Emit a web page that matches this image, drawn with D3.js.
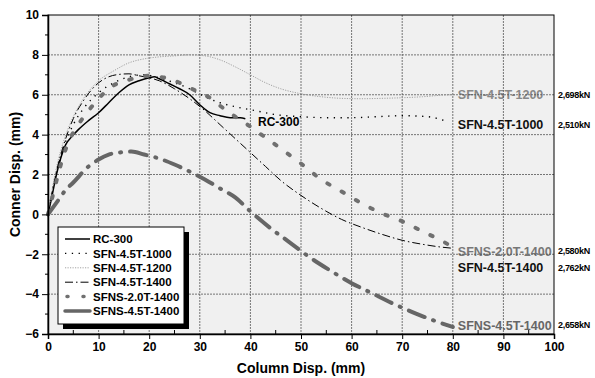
<!DOCTYPE html>
<html>
<head>
<meta charset="utf-8">
<script src="https://cdn.jsdelivr.net/npm/d3@7"></script>
<style>
  body { margin: 0; background: #fff; }
  text { font-family: "Liberation Sans", Arial, sans-serif; font-weight: bold; }
</style>
</head>
<body>
<svg id="chart" width="595" height="378"></svg>
<script>
// Data
const seriesNames = ["RC-300", "SFN-4.5T-1000", "SFN-4.5T-1200", "SFN-4.5T-1400", "SFNS-2.0T-1400", "SFNS-4.5T-1400"];

const rcX = [0, 0.7, 1.5, 2.5, 3.5, 4.7, 6, 8, 10, 12, 14, 16, 18, 20, 21, 22, 24, 26, 28, 30, 32, 34, 36, 38, 39];
const rcY = [0, 0.8, 1.8, 2.8, 3.5, 3.9, 4.25, 4.7, 5.1, 5.6, 6.1, 6.5, 6.7, 6.85, 6.9, 6.8, 6.55, 6.3, 6.0, 5.5, 5.1, 4.95, 4.85, 4.85, 4.8];

const s1000X = [0, 1, 2, 3, 5, 7, 10, 13, 16, 19, 22, 25, 28, 31, 34, 37, 41, 45, 50, 55, 60, 65, 70, 75, 79];
const s1000Y = [0, 1.4, 2.4, 3.3, 4.5, 5.3, 6.1, 6.6, 6.9, 7.0, 6.85, 6.6, 6.3, 5.9, 5.6, 5.4, 5.2, 5.0, 4.9, 4.85, 4.85, 4.9, 4.95, 4.9, 4.65];

const s1200X = [0, 1, 2, 3, 5, 7, 10, 13, 16, 19, 22, 25, 28, 31, 34, 37, 40, 43, 46, 50, 54, 58, 62, 66, 70, 74, 78, 80];
const s1200Y = [0, 1.5, 2.7, 3.6, 4.9, 5.8, 6.7, 7.2, 7.6, 7.8, 7.9, 7.95, 8.0, 7.95, 7.75, 7.4, 7.0, 6.6, 6.3, 6.05, 5.9, 5.82, 5.8, 5.82, 5.85, 5.9, 5.98, 6.0];

const s1400X = [0, 1, 2, 3, 5, 7, 10, 12, 14, 16, 18, 20, 22, 25, 28, 31, 34, 37, 40, 43, 46, 50, 54, 58, 62, 66, 70, 74, 78, 80];
const s1400Y = [0, 1.3, 2.5, 3.4, 4.8, 5.7, 6.6, 6.9, 7.02, 7.05, 6.95, 6.85, 6.7, 6.3, 5.8, 5.2, 4.5, 3.8, 3.1, 2.4, 1.7, 0.95, 0.3, -0.25, -0.65, -1.0, -1.3, -1.5, -1.65, -1.7];

const s20X = [0, 1, 2, 3, 4, 6, 8, 10, 12, 14, 16, 18, 20, 22, 24, 26, 28, 30, 32, 34, 37, 40, 43, 46, 50, 54, 58, 62, 66, 70, 74, 78, 80];
const s20Y = [0, 1.0, 2.0, 2.9, 3.6, 4.5, 5.2, 5.8, 6.3, 6.6, 6.75, 6.9, 6.95, 6.9, 6.8, 6.6, 6.35, 6.1, 5.85, 5.45, 4.9, 4.4, 3.85, 3.3, 2.55, 1.75, 1.15, 0.55, 0.05, -0.35, -0.85, -1.35, -1.65];

const s45X = [0, 2, 3.4, 5, 8, 10, 12, 14, 16.5, 19, 22, 25, 28, 31, 34, 37, 40, 44, 48, 52, 56, 60, 64, 68, 72, 76, 80];
const s45Y = [0, 0.7, 1.2, 1.6, 2.4, 2.75, 3.0, 3.1, 3.15, 3.0, 2.8, 2.5, 2.15, 1.75, 1.3, 0.85, 0.15, -0.7, -1.45, -2.2, -2.85, -3.45, -3.95, -4.45, -4.9, -5.3, -5.65];

const xTicks = [0, 10, 20, 30, 40, 50, 60, 70, 80, 90, 100];
const yTicks = [-6, -4, -2, 0, 2, 4, 6, 8, 10];

// end labels: name, y-position value, force text
const endLabels = ["SFN-4.5T-1200", "SFN-4.5T-1000", "SFNS-2.0T-1400", "SFN-4.5T-1400", "SFNS-4.5T-1400"];
const endLabelY = [6.0, 4.5, -1.85, -2.68, -5.55];
const endForces = ["2,698kN", "2,510kN", "2,580kN", "2,762kN", "2,658kN"];

const styles = {
  "RC-300":         { color: "#000", width: 1.5, dash: null, cap: "butt" },
  "SFN-4.5T-1000":  { color: "#000", width: 1.4, dash: "1.3,5.5", cap: "butt" },
  "SFN-4.5T-1200":  { color: "#999", width: 0.9, dash: "1.2,1.3", cap: "butt" },
  "SFN-4.5T-1400":  { color: "#000", width: 1.0, dash: "8,3,1.5,3", cap: "butt" },
  "SFNS-2.0T-1400": { color: "#707070", width: 4, dash: "2.5,14", cap: "round" },
  "SFNS-4.5T-1400": { color: "#666", width: 4, dash: "17,9,1,9", cap: "round" }
};
const labelColor = {
  "SFN-4.5T-1200": "#888", "SFN-4.5T-1000": "#111", "SFNS-2.0T-1400": "#777",
  "SFN-4.5T-1400": "#111", "SFNS-4.5T-1400": "#666"
};

const series = [
  [seriesNames[0], rcX, rcY],
  [seriesNames[1], s1000X, s1000Y],
  [seriesNames[2], s1200X, s1200Y],
  [seriesNames[3], s1400X, s1400Y],
  [seriesNames[4], s20X, s20Y],
  [seriesNames[5], s45X, s45Y]
].map(([name, xs, ys]) => ({ name, points: xs.map((x, i) => [x, ys[i]]) }));

const svg = d3.select("#chart");
const plotLeft = 48, plotRight = 554, plotTop = 15, plotBottom = 334;

const x = d3.scaleLinear().domain([0, 100]).range([plotLeft, plotRight]);
const y = d3.scaleLinear().domain([-6, 10]).range([plotBottom, plotTop]);

// plot background
svg.append("rect")
  .attr("x", plotLeft).attr("y", plotTop)
  .attr("width", plotRight - plotLeft).attr("height", plotBottom - plotTop)
  .attr("fill", "#f0f0f0");

// end-of-curve labels (drawn under grid, like the source)
svg.append("g")
  .selectAll("text")
  .data(endLabels)
  .enter()
  .append("text")
  .attr("x", x(81))
  .attr("y", (d, i) => y(endLabelY[i]))
  .attr("dy", "0.36em")
  .attr("font-size", 12.5)
  .attr("fill", d => labelColor[d])
  .text(d => d);

// grid
const grid = svg.append("g").attr("class", "grid")
  .attr("stroke", "#555").attr("stroke-width", 0.8).attr("stroke-dasharray", "2,1");
grid.selectAll(".gx")
  .data(xTicks.slice(1, -1))
  .enter()
  .append("line")
  .attr("x1", d => x(d)).attr("x2", d => x(d))
  .attr("y1", plotTop).attr("y2", plotBottom);
grid.selectAll(".gy")
  .data(yTicks.slice(1, -1))
  .enter()
  .append("line")
  .attr("x1", plotLeft).attr("x2", plotRight)
  .attr("y1", d => y(d)).attr("y2", d => y(d));

// curves
const line = d3.line()
  .x(d => x(d[0]))
  .y(d => y(d[1]))
  .curve(d3.curveMonotoneX);

svg.append("g")
  .selectAll("path")
  .data(series)
  .enter()
  .append("path")
  .attr("d", d => line(d.points))
  .attr("fill", "none")
  .attr("stroke", d => styles[d.name].color)
  .attr("stroke-width", d => styles[d.name].width)
  .attr("stroke-dasharray", d => styles[d.name].dash)
  .attr("stroke-linecap", d => styles[d.name].cap);

// RC-300 label at the end of its curve
svg.append("text")
  .attr("x", x(41.5)).attr("y", y(4.63))
  .attr("dy", "0.36em")
  .attr("font-size", 12)
  .attr("fill", "#000")
  .text("RC-300");

// force labels outside plot
svg.append("g")
  .selectAll("text")
  .data(endForces)
  .enter()
  .append("text")
  .attr("x", 558)
  .attr("y", (d, i) => y(endLabelY[i]))
  .attr("dy", "0.36em")
  .attr("font-size", 9)
  .attr("letter-spacing", -0.3)
  .attr("fill", "#000")
  .text(d => d);

// frame
svg.append("rect")
  .attr("x", plotLeft).attr("y", plotTop)
  .attr("width", plotRight - plotLeft).attr("height", plotBottom - plotTop)
  .attr("fill", "none").attr("stroke", "#000").attr("stroke-width", 1);

// axes
const xAxis = d3.axisBottom(x).tickValues(xTicks).tickSize(5).tickPadding(3);
const gx = svg.append("g").attr("transform", `translate(0,${plotBottom})`).call(xAxis);
gx.select(".domain").attr("stroke-width", 1.5);
gx.selectAll("text").attr("font-size", 12).attr("fill", "#000").style("font-weight", "bold");

// minor x ticks point inward
svg.append("g")
  .selectAll("line")
  .data(d3.range(5, 100, 10))
  .enter()
  .append("line")
  .attr("x1", d => x(d)).attr("x2", d => x(d))
  .attr("y1", plotBottom).attr("y2", plotBottom - 4)
  .attr("stroke", "#000");

const yAxis = d3.axisLeft(y).tickValues(yTicks).tickSize(6).tickPadding(3).tickFormat(d3.format("d"));
const gy = svg.append("g").attr("transform", `translate(${plotLeft},0)`).call(yAxis);
gy.select(".domain").attr("stroke-width", 1.5);
gy.selectAll("text").attr("font-size", 12).attr("fill", "#000").style("font-weight", "bold");

svg.append("g")
  .selectAll("line")
  .data(d3.range(-5, 10, 2))
  .enter()
  .append("line")
  .attr("x1", plotLeft - 3).attr("x2", plotLeft)
  .attr("y1", d => y(d)).attr("y2", d => y(d))
  .attr("stroke", "#000");

// axis titles
svg.append("text")
  .attr("x", (plotLeft + plotRight) / 2).attr("y", 373)
  .attr("text-anchor", "middle")
  .attr("font-size", 14)
  .text("Column Disp. (mm)");

svg.append("text")
  .attr("transform", `translate(20,${(plotTop + plotBottom) / 2}) rotate(-90)`)
  .attr("text-anchor", "middle")
  .attr("font-size", 14)
  .text("Conner Disp. (mm)");

// legend
const lg = svg.append("g").attr("transform", "translate(58,227)");
lg.append("rect").attr("x", 5).attr("y", 5).attr("width", 126).attr("height", 97).attr("fill", "#000");
lg.append("rect").attr("x", 0).attr("y", 0).attr("width", 126).attr("height", 97)
  .attr("fill", "#fff").attr("stroke", "#000").attr("stroke-width", 1);

const rows = lg.selectAll(".row")
  .data(series)
  .enter()
  .append("g")
  .attr("transform", (d, i) => `translate(0,${12 + i * 14.4})`);

rows.append("line")
  .attr("x1", 7).attr("x2", 32)
  .attr("y1", 0).attr("y2", 0)
  .attr("stroke", d => styles[d.name].color)
  .attr("stroke-width", d => Math.min(styles[d.name].width, 3.5))
  .attr("stroke-dasharray", d => d.name === "SFNS-2.0T-1400" ? "1,15" : d.name === "SFNS-4.5T-1400" ? null : styles[d.name].dash)
  .attr("stroke-linecap", d => d.name === "SFNS-4.5T-1400" ? "round" : styles[d.name].cap)
  .attr("stroke-dashoffset", d => d.name === "SFNS-2.0T-1400" ? -2 : 0);

rows.append("text")
  .attr("x", 35).attr("y", 0)
  .attr("dy", "0.36em")
  .attr("font-size", 11.5)
  .attr("fill", "#000")
  .text(d => d.name);
</script>
</body>
</html>
